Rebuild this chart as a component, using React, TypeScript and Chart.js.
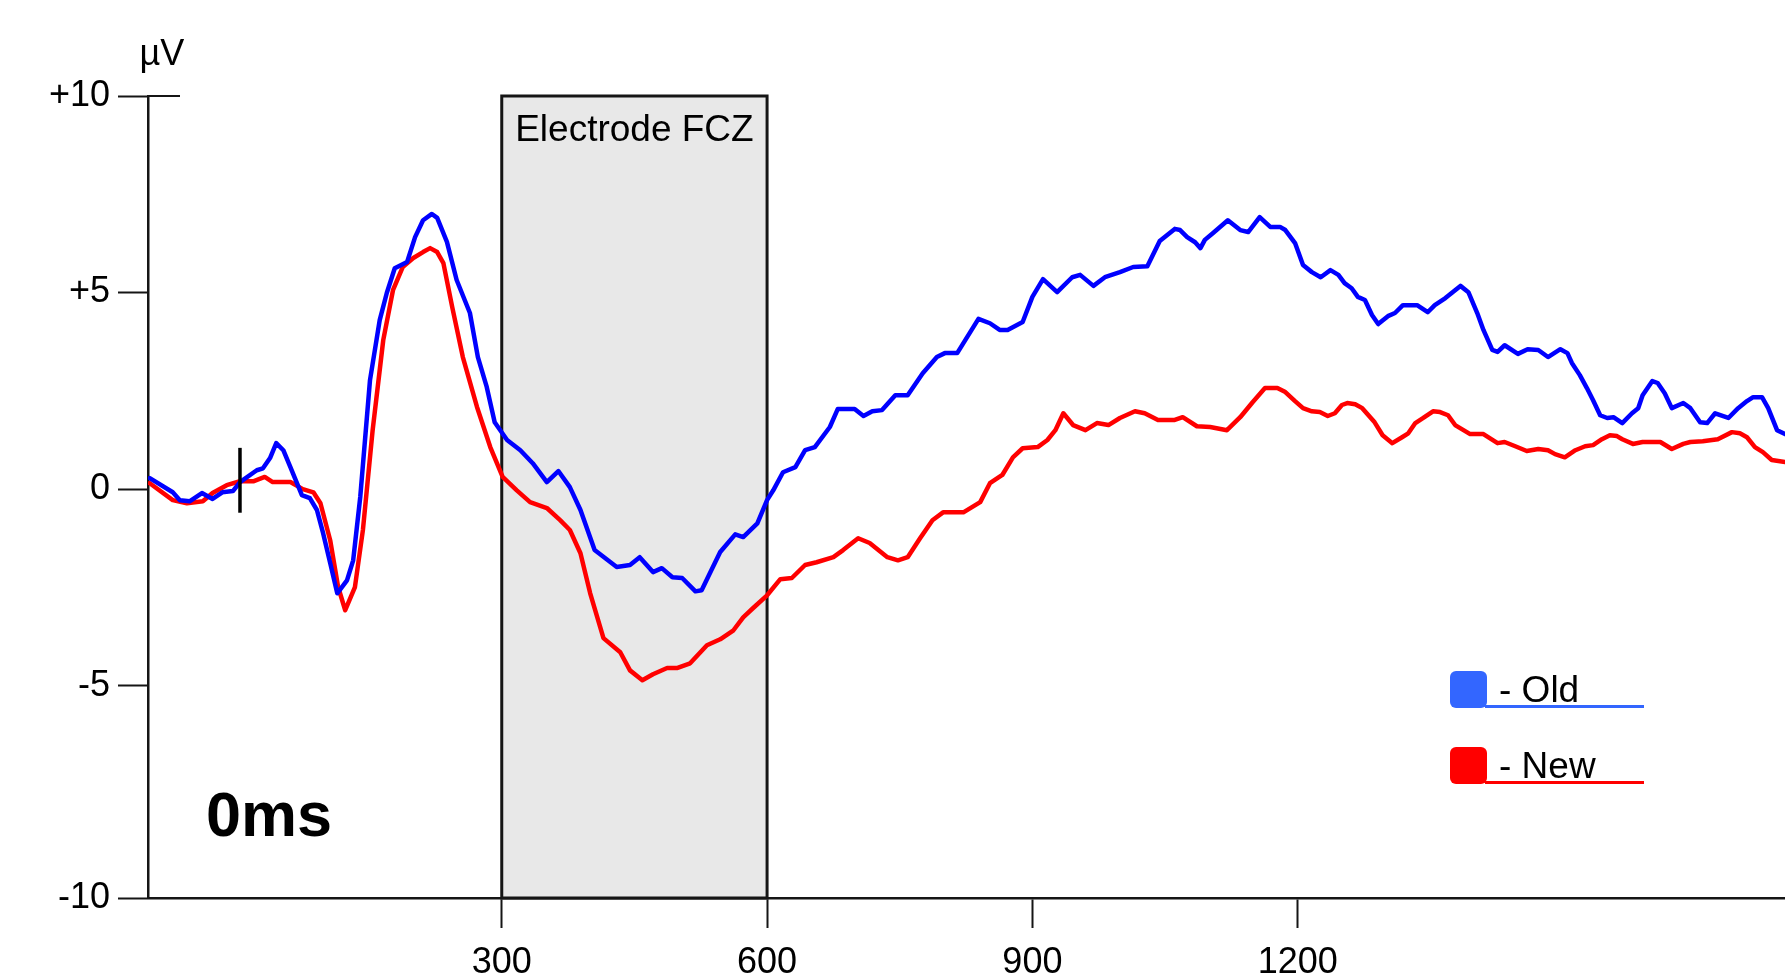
import { useEffect, useRef } from 'react';
import { Chart, registerables } from 'chart.js';

Chart.register(...registerables);

// ---- data (ms / µV) ----
const oldTimes = [
  -98, -72, -64, -53, -39, -27, -16, -4, 4, 23,
  30, 38, 45, 53, 61, 74, 83, 91, 98, 106,
  114, 125, 132, 140, 151, 162, 170, 179, 193, 202,
  211, 221, 227, 238, 249, 264, 273, 283, 292, 306,
  321, 335, 351, 364, 377, 389, 405, 430, 445, 456,
  471, 481, 493, 504, 519, 526, 536, 547, 564, 573,
  589, 600, 607, 618, 632, 643, 654, 671, 680, 699,
  709, 719, 730, 745, 759, 776, 792, 801, 815, 839,
  852, 863, 872, 889, 900, 912, 928, 945, 954, 969,
  982, 999, 1014, 1030, 1044, 1061, 1067, 1075, 1084, 1090,
  1095, 1104, 1121, 1135, 1144, 1157, 1169, 1180, 1186, 1197,
  1206, 1216, 1226, 1237, 1246, 1253, 1261, 1268, 1276, 1284,
  1291, 1302, 1310, 1319, 1335, 1347, 1355, 1367, 1384, 1393,
  1403, 1410, 1420, 1426, 1434, 1449, 1460, 1472, 1483, 1497,
  1505, 1510, 1519, 1527, 1534, 1542, 1550, 1557, 1567, 1578,
  1585, 1590, 1601, 1607, 1615, 1623, 1636, 1644, 1655, 1663,
  1672, 1687, 1698, 1708, 1715, 1725, 1732, 1742, 1751,
];
const oldValues = [
  0.28, -0.08, -0.28, -0.31, -0.10, -0.25, -0.08, -0.05, 0.18, 0.48,
  0.53, 0.79, 1.17, 0.99, 0.56, -0.15, -0.23, -0.53, -1.12, -1.88,
  -2.65, -2.32, -1.81, -0.20, 2.77, 4.30, 4.99, 5.62, 5.78, 6.41,
  6.84, 7.00, 6.90, 6.29, 5.32, 4.48, 3.36, 2.60, 1.70, 1.25,
  0.99, 0.66, 0.18, 0.46, 0.05, -0.53, -1.55, -1.98, -1.93, -1.73,
  -2.11, -2.01, -2.24, -2.26, -2.60, -2.57, -2.11, -1.60, -1.15, -1.22,
  -0.87, -0.28, -0.03, 0.43, 0.56, 0.99, 1.07, 1.58, 2.04, 2.04,
  1.86, 1.98, 2.01, 2.39, 2.39, 2.95, 3.36, 3.46, 3.46, 4.33,
  4.22, 4.05, 4.05, 4.25, 4.89, 5.34, 5.01, 5.39, 5.45, 5.17,
  5.39, 5.52, 5.65, 5.67, 6.31, 6.62, 6.59, 6.41, 6.28, 6.13,
  6.34, 6.51, 6.84, 6.59, 6.54, 6.92, 6.67, 6.67, 6.59, 6.26,
  5.70, 5.52, 5.39, 5.57, 5.45, 5.24, 5.11, 4.89, 4.81, 4.43,
  4.20, 4.40, 4.48, 4.68, 4.68, 4.50, 4.68, 4.86, 5.17, 5.01,
  4.48, 4.05, 3.54, 3.49, 3.66, 3.44, 3.56, 3.54, 3.36, 3.56,
  3.46, 3.21, 2.90, 2.57, 2.26, 1.88, 1.81, 1.83, 1.68, 1.93,
  2.06, 2.39, 2.75, 2.70, 2.44, 2.06, 2.19, 2.06, 1.70, 1.68,
  1.93, 1.81, 2.06, 2.24, 2.34, 2.34, 2.06, 1.50, 1.40,
];
const newTimes = [
  -98, -72, -56, -38, -27, -11, 4, 19, 32, 41,
  61, 75, 87, 95, 106, 115, 123, 134, 143, 154,
  166, 177, 188, 200, 211, 219, 227, 234, 244, 256,
  272, 287, 301, 317, 332, 351, 366, 377, 389, 400,
  415, 434, 445, 459, 471, 487, 498, 513, 532, 547,
  562, 573, 584, 600, 615, 628, 643, 656, 675, 686,
  703, 716, 736, 748, 759, 773, 787, 799, 822, 841,
  852, 866, 878, 889, 906, 917, 926, 935, 946, 960,
  973, 986, 999, 1016, 1027, 1042, 1061, 1070, 1086, 1101,
  1120, 1135, 1149, 1163, 1177, 1186, 1197, 1206, 1216, 1225,
  1234, 1242, 1250, 1256, 1265, 1273, 1287, 1296, 1307, 1318,
  1325, 1333, 1342, 1353, 1361, 1370, 1378, 1395, 1410, 1426,
  1434, 1446, 1459, 1472, 1483, 1491, 1502, 1514, 1525, 1534,
  1544, 1553, 1561, 1567, 1579, 1590, 1610, 1623, 1636, 1644,
  1658, 1675, 1691, 1700, 1708, 1717, 1726, 1736, 1751,
];
const newValues = [
  0.15, -0.28, -0.36, -0.31, -0.10, 0.10, 0.20, 0.20, 0.31, 0.18,
  0.18, 0.00, -0.08, -0.36, -1.30, -2.49, -3.08, -2.49, -1.04, 1.50,
  3.79, 5.06, 5.65, 5.88, 6.03, 6.13, 6.03, 5.75, 4.63, 3.36,
  2.09, 1.07, 0.31, -0.03, -0.33, -0.48, -0.79, -1.04, -1.63, -2.65,
  -3.79, -4.15, -4.61, -4.86, -4.71, -4.55, -4.55, -4.43, -3.97, -3.82,
  -3.59, -3.26, -3.03, -2.70, -2.29, -2.26, -1.93, -1.86, -1.73, -1.55,
  -1.25, -1.37, -1.73, -1.81, -1.73, -1.25, -0.79, -0.59, -0.59, -0.33,
  0.15, 0.36, 0.81, 1.04, 1.07, 1.25, 1.50, 1.93, 1.63, 1.50,
  1.68, 1.63, 1.81, 1.98, 1.93, 1.76, 1.76, 1.83, 1.60, 1.58,
  1.50, 1.83, 2.21, 2.57, 2.57, 2.47, 2.24, 2.06, 1.98, 1.96,
  1.86, 1.93, 2.14, 2.19, 2.16, 2.06, 1.70, 1.37, 1.17, 1.32,
  1.42, 1.68, 1.81, 1.98, 1.96, 1.88, 1.63, 1.40, 1.40, 1.17,
  1.20, 1.09, 0.97, 1.02, 0.99, 0.89, 0.81, 0.99, 1.09, 1.12,
  1.27, 1.37, 1.35, 1.27, 1.15, 1.20, 1.20, 1.02, 1.15, 1.20,
  1.22, 1.27, 1.45, 1.42, 1.32, 1.07, 0.94, 0.74, 0.69,
];
const seriesLabels = ['Old', 'New'];
const xTickValues = [300, 600, 900, 1200];
const yTickValues = [-10.4, -5, 0, 5, 10];
const yTickLabels = ['-10', '-5', '0', '+5', '+10'];
const xRange = [-100, 1751];
const windowRange = [300, 600];
const windowLabel = 'Electrode FCZ';
const unitLabel = 'µV';
const cornerLabel = '0ms';
const stimulusMarkerMs = 4;

const FONT = "'Liberation Sans', Arial, Helvetica, sans-serif";
const AXIS = '#151515';
const lineColors = ['#0000ff', '#ff0000'];
const legendColors = ['#3366ff', '#ff0000'];

const overlay = {
  id: 'erpOverlay',
  beforeDatasetsDraw(chart: any) {
    const { ctx, chartArea, scales } = chart;
    const x = scales.x;
    const y = scales.y;
    const x0 = x.getPixelForValue(windowRange[0]);
    const x1 = x.getPixelForValue(windowRange[1]);
    const yt = y.getPixelForValue(10);
    const yb = chartArea.bottom;
    ctx.save();
    ctx.fillStyle = '#e8e8e8';
    ctx.fillRect(x0, yt, x1 - x0, yb - yt);
    ctx.strokeStyle = AXIS;
    ctx.lineWidth = 3;
    ctx.strokeRect(x0, yt, x1 - x0, yb - yt);
    ctx.fillStyle = '#000';
    ctx.font = `37px ${FONT}`;
    ctx.textAlign = 'center';
    ctx.textBaseline = 'alphabetic';
    ctx.fillText(windowLabel, (x0 + x1) / 2, yt + 45);
    ctx.restore();
  },
  afterDatasetsDraw(chart: any) {
    const { ctx, chartArea, scales } = chart;
    const x = scales.x;
    const y = scales.y;
    ctx.save();
    // +10 tick extension to the right of the axis
    const y10 = y.getPixelForValue(10);
    ctx.strokeStyle = AXIS;
    ctx.lineWidth = 2;
    ctx.beginPath();
    ctx.moveTo(chartArea.left, y10);
    ctx.lineTo(chartArea.left + 32, y10);
    ctx.stroke();
    // stimulus marker
    const xm = x.getPixelForValue(stimulusMarkerMs);
    ctx.strokeStyle = '#000';
    ctx.lineWidth = 3.5;
    ctx.beginPath();
    ctx.moveTo(xm, y.getPixelForValue(1.05));
    ctx.lineTo(xm, y.getPixelForValue(-0.6));
    ctx.stroke();
    // unit label
    ctx.fillStyle = '#000';
    ctx.font = `36px ${FONT}`;
    ctx.textAlign = 'center';
    ctx.textBaseline = 'alphabetic';
    ctx.fillText(unitLabel, chartArea.left + 14, y10 - 31);
    // corner label
    ctx.font = `bold 63px ${FONT}`;
    ctx.textAlign = 'left';
    ctx.fillText(cornerLabel, chartArea.left + 58, 836);
    // legend
    chart.data.datasets.forEach((ds: any, i: number) => {
      const top = 671 + i * 76;
      const left = 1450;
      const size = 37;
      ctx.fillStyle = legendColors[i];
      ctx.beginPath();
      if (ctx.roundRect) ctx.roundRect(left, top, size, size, 6);
      else ctx.rect(left, top, size, size);
      ctx.fill();
      ctx.strokeStyle = legendColors[i];
      ctx.lineWidth = 3;
      ctx.beginPath();
      ctx.moveTo(left + size - 2, top + size - 1.5);
      ctx.lineTo(1644, top + size - 1.5);
      ctx.stroke();
      ctx.fillStyle = '#000';
      ctx.font = `37px ${FONT}`;
      ctx.textAlign = 'left';
      ctx.fillText('- ' + ds.label, 1499, top + 31);
    });
    ctx.restore();
  },
};

export default function App() {
  const ref = useRef<HTMLCanvasElement>(null);
  useEffect(() => {
    document.body.style.margin = '0';
    Chart.defaults.font.family = FONT;
    const chart = new Chart(ref.current as HTMLCanvasElement, {
      type: 'line',
      data: {
        datasets: [
          {
            label: seriesLabels[0],
            data: oldTimes.map((t, i) => ({ x: t, y: oldValues[i] })),
            borderColor: lineColors[0],
            borderWidth: 4.5,
            pointRadius: 0,
            tension: 0,
            borderJoinStyle: 'round',
            borderCapStyle: 'round',
          },
          {
            label: seriesLabels[1],
            data: newTimes.map((t, i) => ({ x: t, y: newValues[i] })),
            borderColor: lineColors[1],
            borderWidth: 4.5,
            pointRadius: 0,
            tension: 0,
            borderJoinStyle: 'round',
            borderCapStyle: 'round',
          },
        ],
      },
      options: {
        responsive: false,
        animation: false,
        layout: { padding: { top: 96, right: 0, left: 0, bottom: 0 } },
        plugins: { legend: { display: false }, tooltip: { enabled: false } },
        scales: {
          x: {
            type: 'linear',
            min: xRange[0],
            max: xRange[1],
            afterBuildTicks: (s: any) => {
              s.ticks = xTickValues.map((v) => ({ value: v }));
            },
            afterFit: (s: any) => {
              s.height = 82;
            },
            grid: { drawOnChartArea: false, drawTicks: true, tickLength: 30, tickWidth: 2, tickColor: AXIS },
            border: { display: true, color: AXIS, width: 2.5 },
            ticks: {
              color: '#000',
              font: { size: 36, family: FONT },
              padding: 13,
              maxRotation: 0,
              autoSkip: false,
              callback: (v: any) => String(v),
            },
          },
          y: {
            type: 'linear',
            min: yTickValues[0],
            max: yTickValues[yTickValues.length - 1],
            afterBuildTicks: (s: any) => {
              s.ticks = yTickValues.map((v) => ({ value: v }));
            },
            afterFit: (s: any) => {
              s.width = 148;
            },
            grid: { drawOnChartArea: false, drawTicks: true, tickLength: 30, tickWidth: 2, tickColor: AXIS },
            border: { display: true, color: AXIS, width: 2.5 },
            ticks: {
              color: '#000',
              font: { size: 36, family: FONT },
              padding: 8,
              autoSkip: false,
              callback: (_v: any, i: number) => yTickLabels[i],
            },
          },
        },
      },
      plugins: [overlay],
    } as any);
    return () => chart.destroy();
  }, []);
  return (
    <canvas
      ref={ref}
      width={1785}
      height={980}
      style={{ display: 'block', width: 1785, height: 980 }}
    />
  );
}
